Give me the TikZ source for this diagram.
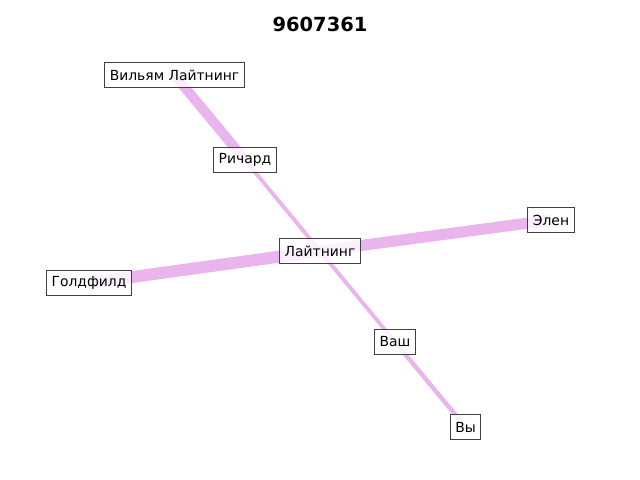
\documentclass[tikz,border=0pt]{standalone}
\usepackage{fontspec}
\setmainfont{DejaVu Sans}
\begin{document}
\begin{tikzpicture}[x=0.72pt,y=-0.72pt,
  nd/.style={draw={rgb,255:red,64;green,64;blue,64}, line width=0.8pt, fill=white, fill opacity=0.8, text opacity=1, inner xsep=3.6pt, inner ysep=0pt, minimum height=18pt, font=\fontsize{10}{12}\selectfont},
  ed/.style={draw={rgb,255:red,234;green,180;blue,236}, line cap=butt}]
\useasboundingbox (0,0) rectangle (640,480);
\node[font=\fontsize{14}{16}\selectfont\bfseries] (title) at (320,24) {9607361};
\coordinate (cw) at (174.5,75);
\coordinate (cr) at (245,160);
\coordinate (ce) at (551,220);
\coordinate (cl) at (320,251);
\coordinate (cg) at (89,283);
\coordinate (cv) at (395,342);
\coordinate (cy) at (465.5,427);
\draw[ed, line width=7.2pt] (cw) -- (cr);
\draw[ed, line width=2.8pt] (cr) -- (cl);
\draw[ed, line width=2.8pt] (cl) -- (cv);
\draw[ed, line width=3.2pt] (cv) -- (cy);
\draw[ed, line width=8.6pt] (cg) -- (cl);
\draw[ed, line width=8.0pt] (cl) -- (ce);
\node[nd] (w) at (cw) {Вильям Лайтнинг};
\node[nd] (r) at (cr) {Ричард};
\node[nd] (e) at (ce) {Элен};
\node[nd] (l) at (cl) {Лайтнинг};
\node[nd] (g) at (cg) {Голдфилд};
\node[nd] (v) at (cv) {Ваш};
\node[nd] (y) at (cy) {Вы};
\end{tikzpicture}
\end{document}
